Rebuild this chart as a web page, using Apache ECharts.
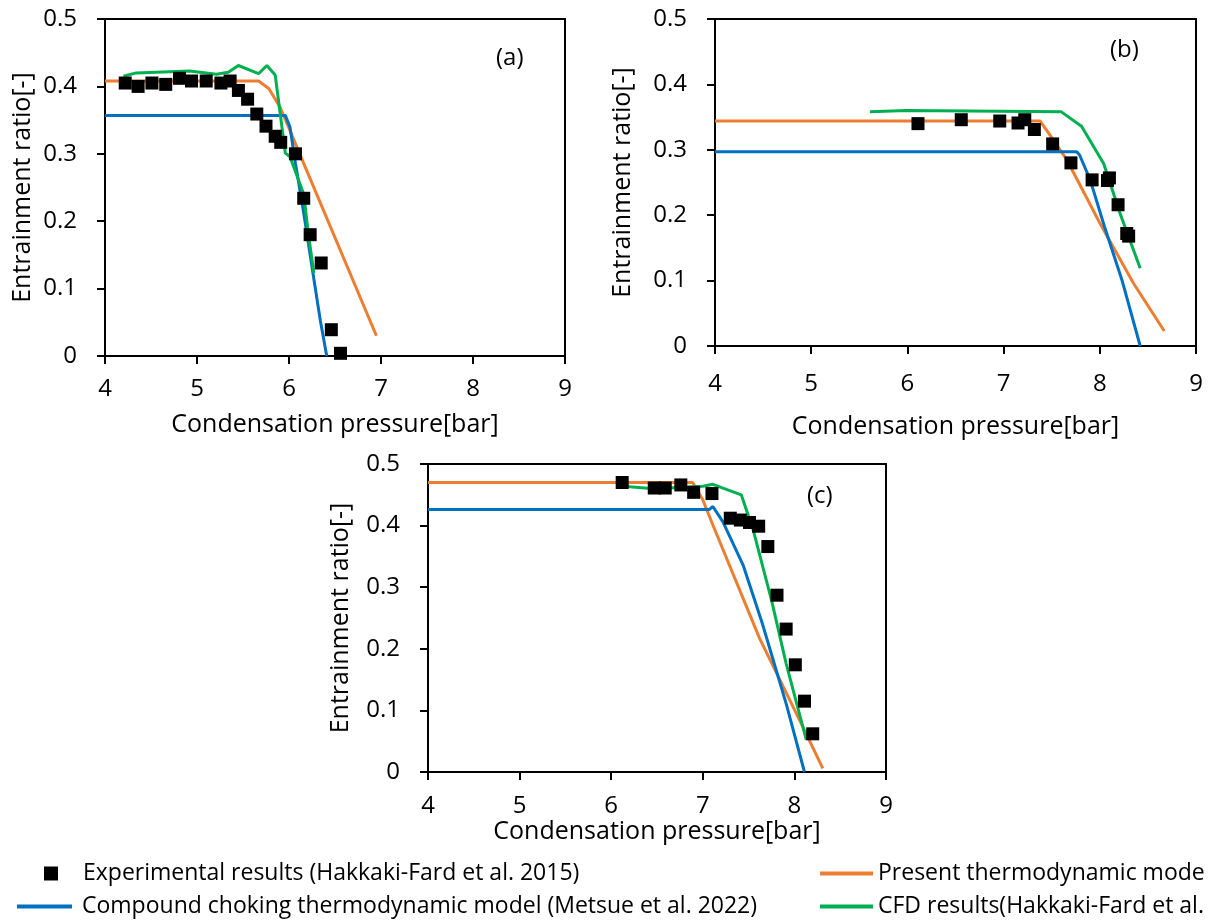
<!DOCTYPE html>
<html>
	<head>
		<meta charset="utf-8">
		<title></title>
		<script src="https://cdn.jsdelivr.net/npm/echarts@6/dist/echarts.min.js"></script>
		<style>
			html,body{margin:0;padding:0;background:#fff;}
			.chart{width:1215px;height:923px;}
		</style>
	</head>
	<body>
		<div class="chart"></div>
		<script>
			// series names, as shown in the legend
			var nameExp = 'Experimental results (Hakkaki-Fard et al. 2015)';
			var nameModel = 'Present thermodynamic mode';
			var nameChoke = 'Compound choking thermodynamic model (Metsue et al. 2022)';
			var nameCfd = 'CFD results(Hakkaki-Fard et al.';

			var panelTags = ['(a)', '(b)', '(c)'];
			var xTicks = [4, 5, 6, 7, 8, 9];
			var yTicks = [0, 0.1, 0.2, 0.3, 0.4, 0.5];

			// panel (a)
			var expA = [[4.22,0.405],[4.36,0.400],[4.51,0.405],[4.66,0.403],[4.81,0.412],[4.94,0.408],[5.10,0.408],[5.26,0.405],[5.36,0.408],[5.45,0.394],[5.55,0.381],[5.65,0.359],[5.75,0.341],[5.85,0.326],[5.91,0.317],[6.07,0.300],[6.16,0.234],[6.23,0.180],[6.35,0.138],[6.46,0.039],[6.56,0.004]];
			var modelA = [[4,0.408],[5.67,0.408],[5.78,0.397],[5.9,0.37],[6.0,0.338],[6.1,0.305],[6.95,0.03]];
			var chokeA = [[4,0.357],[5.96,0.357],[6.01,0.34],[6.07,0.286],[6.16,0.212],[6.25,0.132],[6.34,0.053],[6.41,0]];
			var cfdA = [[4.2,0.415],[4.34,0.42],[4.92,0.423],[5.21,0.418],[5.34,0.421],[5.45,0.431],[5.67,0.419],[5.76,0.431],[5.85,0.417],[5.96,0.301],[6.01,0.296],[6.16,0.24],[6.21,0.182],[6.27,0.123]];

			// panel (b)
			var expB = [[6.11,0.340],[6.56,0.346],[6.96,0.344],[7.15,0.341],[7.22,0.346],[7.32,0.331],[7.51,0.309],[7.70,0.280],[7.92,0.254],[8.08,0.253],[8.10,0.257],[8.19,0.216],[8.28,0.172],[8.30,0.168]];
			var modelB = [[4,0.344],[7.38,0.344],[7.47,0.325],[7.66,0.284],[8.0,0.188],[8.35,0.096],[8.67,0.023]];
			var chokeB = [[4,0.297],[7.76,0.297],[7.79,0.292],[7.9,0.254],[8.05,0.182],[8.23,0.101],[8.42,0]];
			var cfdB = [[5.61,0.358],[5.99,0.36],[7.6,0.358],[7.81,0.336],[8.04,0.279],[8.21,0.203],[8.42,0.119]];

			// panel (c)
			var expC = [[6.12,0.470],[6.47,0.461],[6.59,0.461],[6.76,0.466],[6.90,0.454],[7.10,0.452],[7.30,0.412],[7.41,0.409],[7.51,0.405],[7.61,0.399],[7.71,0.366],[7.81,0.287],[7.91,0.232],[8.01,0.174],[8.11,0.115],[8.20,0.062]];
			var modelC = [[4,0.47],[6.89,0.47],[7.0,0.442],[7.11,0.401],[7.62,0.217],[8.09,0.074],[8.31,0.006]];
			var chokeC = [[4,0.426],[7.07,0.426],[7.11,0.431],[7.22,0.406],[7.44,0.336],[7.65,0.241],[7.91,0.111],[8.11,0]];
			var cfdC = [[6.12,0.47],[6.2,0.463],[6.46,0.46],[7.0,0.464],[7.11,0.467],[7.42,0.45],[7.55,0.393],[7.75,0.279],[7.91,0.176],[8.13,0.052]];

			var font = '"Open Sans", "Liberation Sans", sans-serif';
			var chart = echarts.init(document.querySelector('.chart'), null, {renderer: 'canvas'});

			// grid boxes for the three panels
			var grids = [
				{left: 105, top: 19, width: 460, height: 337},
				{left: 715, top: 19, width: 481, height: 327},
				{left: 428, top: 464, width: 458, height: 308}
			];
			var xLabelMargin = [21, 26, 22];
			var xNameGap = [56, 68, 45];
			var yNameGap = [70, 80, 75];

			var xAxes = [], yAxes = [], series = [];
			var sets = [[expA, modelA, chokeA, cfdA], [expB, modelB, chokeB, cfdB], [expC, modelC, chokeC, cfdC]];

			for (var i = 0; i < 3; i++) {
				grids[i].show = true;
				grids[i].borderColor = '#000';
				grids[i].borderWidth = 2;
				xAxes.push({
					gridIndex: i, type: 'value',
					min: xTicks[0], max: xTicks[xTicks.length - 1], interval: 1,
					name: 'Condensation pressure[bar]', nameLocation: 'middle', nameGap: xNameGap[i],
					nameTextStyle: {fontFamily: font, fontSize: 25, color: '#000'},
					axisLine: {onZero: false, lineStyle: {color: '#000', width: 2}},
					axisTick: {inside: false, length: 8, lineStyle: {color: '#000', width: 2}},
					axisLabel: {margin: xLabelMargin[i], fontFamily: font, fontSize: 24, color: '#000'},
					splitLine: {show: false}
				});
				yAxes.push({
					gridIndex: i, type: 'value',
					min: yTicks[0], max: yTicks[yTicks.length - 1], interval: 0.1,
					name: 'Entrainment ratio[-]', nameLocation: 'middle', nameGap: yNameGap[i], nameRotate: 90,
					nameTextStyle: {fontFamily: font, fontSize: 25, color: '#000'},
					axisLine: {onZero: false, lineStyle: {color: '#000', width: 2}},
					axisTick: {inside: false, length: 8, lineStyle: {color: '#000', width: 2}},
					axisLabel: {margin: 28, fontFamily: font, fontSize: 24, color: '#000'},
					splitLine: {show: false}
				});
				var s = sets[i];
				series.push({
					name: nameModel, type: 'line', xAxisIndex: i, yAxisIndex: i, data: s[1],
					symbol: 'none', lineStyle: {color: '#ED7D31', width: 3}, itemStyle: {color: '#ED7D31'}, z: 2
				});
				series.push({
					name: nameChoke, type: 'line', xAxisIndex: i, yAxisIndex: i, data: s[2],
					symbol: 'none', lineStyle: {color: '#0070C0', width: 3}, itemStyle: {color: '#0070C0'}, z: 3
				});
				series.push({
					name: nameCfd, type: 'line', xAxisIndex: i, yAxisIndex: i, data: s[3],
					symbol: 'none', lineStyle: {color: '#00B050', width: 3}, itemStyle: {color: '#00B050'}, z: 4
				});
				series.push({
					name: nameExp, type: 'scatter', xAxisIndex: i, yAxisIndex: i, data: s[0],
					symbol: 'rect', symbolSize: 13, itemStyle: {color: '#000', opacity: 1}, z: 5
				});
			}

			var legendText = {fontFamily: font, fontSize: 23, color: '#000'};
			chart.setOption({
				backgroundColor: '#fff',
				animation: false,
				grid: grids,
				xAxis: xAxes,
				yAxis: yAxes,
				series: series,
				legend: [
					{data: [nameExp], left: 44, top: 862, padding: 0, icon: 'rect', itemWidth: 14, itemHeight: 14,
						textStyle: Object.assign({padding: [0, 0, 0, 20]}, legendText)},
					{data: [nameChoke], left: 17, top: 895, padding: 0, icon: 'rect', itemWidth: 55, itemHeight: 4,
						textStyle: Object.assign({padding: [0, 0, 0, 5]}, legendText)},
					{data: [nameModel], left: 820, top: 862, padding: 0, icon: 'rect', itemWidth: 53, itemHeight: 4, textStyle: legendText},
					{data: [nameCfd], left: 820, top: 895, padding: 0, icon: 'rect', itemWidth: 53, itemHeight: 4, textStyle: legendText}
				],
				graphic: [
					{type: 'text', left: 496, top: 46, style: {text: panelTags[0], font: '24px ' + font, fill: '#000'}},
					{type: 'text', left: 1110, top: 38, style: {text: panelTags[1], font: '24px ' + font, fill: '#000'}},
					{type: 'text', left: 807, top: 484, style: {text: panelTags[2], font: '24px ' + font, fill: '#000'}}
				]
			});
		</script>
	</body>
</html>
